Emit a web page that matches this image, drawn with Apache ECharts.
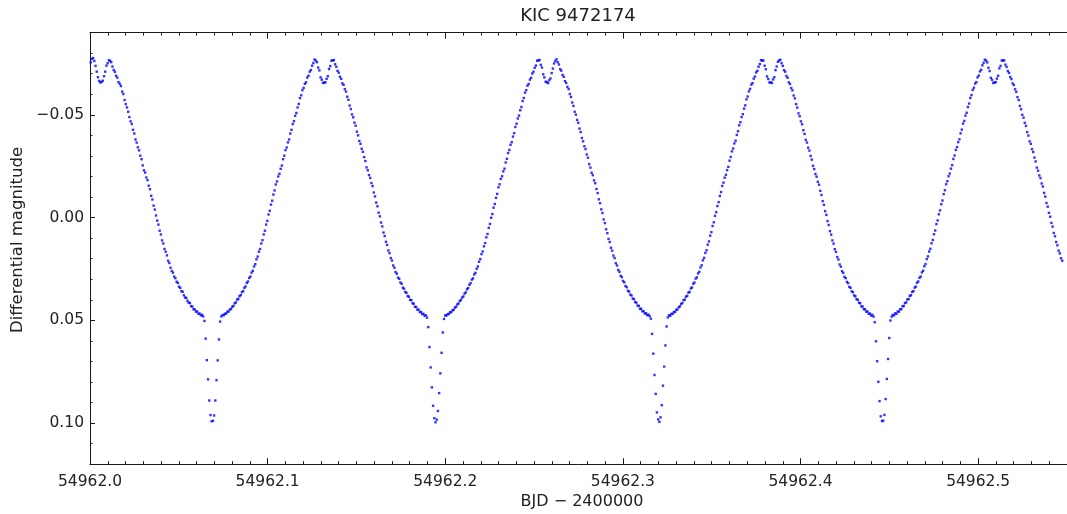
<!DOCTYPE html>
<html><head><meta charset="utf-8">
<script src="https://cdn.jsdelivr.net/npm/echarts@6/dist/echarts.min.js"></script>
<style>html,body{margin:0;padding:0;background:#fff}#c{width:1067px;height:514px}</style>
</head><body><div id="c"></div>
<script>
const chartTitle = 'KIC 9472174';
const xName = 'BJD \u2212 2400000';
const yName = 'Differential magnitude';
const xMajorTicks = [54962.0, 54962.1, 54962.2, 54962.3, 54962.4, 54962.5];
const xTickLabels = ['54962.0', '54962.1', '54962.2', '54962.3', '54962.4', '54962.5'];
const yMajorTicks = [-0.05, 0.00, 0.05, 0.10];
const yTickLabels = ['\u22120.05', '0.00', '0.05', '0.10'];
const firstTime = 54962.00039;
const cadence = 0.00068112;

const magCycle0 = [
-0.0755,-0.0772,-0.0776,-0.0762,-0.0738,-0.0710,-0.0683,-0.0665,-0.0657,
-0.0660,-0.0666,-0.0688,-0.0710,-0.0739,-0.0751,-0.0765,-0.0763,-0.0756,-0.0735,
-0.0718,-0.0709,-0.0690,-0.0681,-0.0659,-0.0651,-0.0640,-0.0613,-0.0601,-0.0572,
-0.0552,-0.0536,-0.0515,-0.0489,-0.0468,-0.0455,-0.0427,-0.0409,-0.0380,-0.0365,
-0.0342,-0.0327,-0.0301,-0.0284,-0.0254,-0.0230,-0.0219,-0.0195,-0.0182,-0.0155,
-0.0138,-0.0106,-0.0088,-0.0058,-0.0039,-0.0010,0.0015,0.0034,0.0064,0.0082,
0.0111,0.0126,0.0153,0.0166,0.0184,0.0210,0.0221,0.0244,0.0260,0.0268,
0.0287,0.0295,0.0312,0.0318,0.0336,0.0342,0.0358,0.0361,0.0378,0.0389,
0.0391,0.0405,0.0414,0.0416,0.0431,0.0433,0.0446,0.0447,0.0458,0.0457,
0.0468,0.0467,0.0476,0.0473,0.0481,0.0503,0.0589,0.0694,0.0787,0.0890,
0.0961,0.0991];

const magCycle1 = [
0.0989,0.0963,0.0890,0.0791,0.0695,0.0593,0.0506,0.0481,0.0474,0.0475,
0.0468,0.0467,0.0458,0.0457,0.0447,0.0445,0.0434,0.0430,0.0417,0.0413,
0.0399,0.0396,0.0383,0.0377,0.0363,0.0358,0.0342,0.0335,0.0318,0.0311,
0.0294,0.0287,0.0268,0.0259,0.0238,0.0227,0.0203,0.0190,0.0166,0.0153,
0.0126,0.0110,0.0082,0.0064,0.0034,0.0016,-0.0015,-0.0033,-0.0063,-0.0082,
-0.0112,-0.0132,-0.0161,-0.0176,-0.0200,-0.0213,-0.0237,-0.0253,-0.0284,-0.0301,
-0.0328,-0.0341,-0.0366,-0.0380,-0.0409,-0.0427,-0.0455,-0.0469,-0.0495,-0.0509,
-0.0536,-0.0553,-0.0581,-0.0595,-0.0620,-0.0631,-0.0651,-0.0658,-0.0681,-0.0690,
-0.0710,-0.0718,-0.0739,-0.0752,-0.0769,-0.0764,-0.0756,-0.0730,-0.0716,-0.0682,
-0.0671,-0.0655,-0.0657,-0.0658,-0.0675,-0.0688,-0.0723,-0.0737,-0.0763,-0.0765,
-0.0766,-0.0746,-0.0734,-0.0714,-0.0705,-0.0685,-0.0675,-0.0653,-0.0646,-0.0625,
-0.0613,-0.0588,-0.0573,-0.0545,-0.0528,-0.0502,-0.0488,-0.0462,-0.0447,-0.0418,
-0.0400,-0.0373,-0.0359,-0.0335,-0.0320,-0.0294,-0.0275,-0.0244,-0.0230,-0.0207,
-0.0193,-0.0168,-0.0153,-0.0122,-0.0103,-0.0073,-0.0055,-0.0024,-0.0006,0.0024,
0.0043,0.0073,0.0090,0.0118,0.0133,0.0160,0.0173,0.0197,0.0209,0.0233,
0.0244,0.0265,0.0273,0.0292,0.0298,0.0316,0.0322,0.0341,0.0346,0.0362,
0.0366,0.0382,0.0385,0.0400,0.0402,0.0417,0.0419,0.0434,0.0435,0.0448,
0.0448,0.0460,0.0459,0.0470,0.0468,0.0478,0.0475,0.0487,0.0533,0.0630,
0.0729,0.0826,0.0916,0.0976,0.0996];

const magCycle2 = [
0.0983,0.0941,0.0854,0.0758,0.0658,0.0559,0.0493,0.0476,0.0477,0.0470,
0.0469,0.0461,0.0460,0.0451,0.0449,0.0438,0.0434,0.0423,0.0418,0.0406,
0.0401,0.0389,0.0384,0.0370,0.0364,0.0349,0.0343,0.0327,0.0319,0.0302,
0.0296,0.0277,0.0269,0.0249,0.0238,0.0215,0.0202,0.0178,0.0165,0.0140,
0.0124,0.0096,0.0080,0.0050,0.0031,0.0001,-0.0017,-0.0048,-0.0066,-0.0096,
-0.0115,-0.0147,-0.0162,-0.0188,-0.0201,-0.0225,-0.0238,-0.0268,-0.0286,-0.0314,
-0.0329,-0.0354,-0.0367,-0.0394,-0.0411,-0.0441,-0.0457,-0.0482,-0.0496,-0.0522,
-0.0538,-0.0567,-0.0582,-0.0608,-0.0620,-0.0642,-0.0650,-0.0671,-0.0680,-0.0701,
-0.0710,-0.0729,-0.0740,-0.0763,-0.0764,-0.0767,-0.0743,-0.0730,-0.0697,-0.0682,
-0.0661,-0.0659,-0.0654,-0.0668,-0.0677,-0.0703,-0.0725,-0.0750,-0.0762,-0.0770,
-0.0756,-0.0745,-0.0722,-0.0715,-0.0694,-0.0685,-0.0664,-0.0655,-0.0636,-0.0625,
-0.0601,-0.0587,-0.0560,-0.0543,-0.0515,-0.0501,-0.0475,-0.0461,-0.0433,-0.0416,
-0.0387,-0.0371,-0.0347,-0.0333,-0.0307,-0.0291,-0.0260,-0.0243,-0.0218,-0.0206,
-0.0181,-0.0167,-0.0139,-0.0119,-0.0089,-0.0070,-0.0040,-0.0022,0.0009,0.0027,
0.0057,0.0076,0.0104,0.0119,0.0147,0.0161,0.0185,0.0197,0.0222,0.0233,
0.0255,0.0264,0.0283,0.0290,0.0308,0.0315,0.0333,0.0339,0.0356,0.0360,
0.0375,0.0379,0.0394,0.0397,0.0411,0.0414,0.0428,0.0430,0.0444,0.0444,
0.0456,0.0456,0.0467,0.0465,0.0475,0.0472,0.0480,0.0492,0.0566,0.0662,
0.0766,0.0858,0.0948,0.0982];

const magCycle3 = [
0.0994,0.0972,0.0913,0.0818,0.0725,0.0622,0.0530,0.0486,0.0475,0.0478,
0.0469,0.0468,0.0460,0.0459,0.0449,0.0447,0.0436,0.0432,0.0420,0.0416,
0.0402,0.0399,0.0385,0.0381,0.0365,0.0362,0.0345,0.0340,0.0322,0.0316,
0.0297,0.0291,0.0272,0.0264,0.0243,0.0232,0.0208,0.0196,0.0172,0.0159,
0.0132,0.0116,0.0088,0.0071,0.0041,0.0023,-0.0008,-0.0026,-0.0056,-0.0075,
-0.0105,-0.0124,-0.0154,-0.0170,-0.0194,-0.0208,-0.0231,-0.0247,-0.0277,-0.0295,
-0.0322,-0.0336,-0.0361,-0.0374,-0.0402,-0.0420,-0.0449,-0.0464,-0.0489,-0.0503,
-0.0530,-0.0546,-0.0575,-0.0589,-0.0614,-0.0626,-0.0647,-0.0654,-0.0676,-0.0686,
-0.0706,-0.0714,-0.0734,-0.0747,-0.0766,-0.0764,-0.0764,-0.0739,-0.0722,-0.0687,
-0.0674,-0.0657,-0.0658,-0.0655,-0.0672,-0.0683,-0.0717,-0.0735,-0.0758,-0.0764,
-0.0768,-0.0751,-0.0738,-0.0717,-0.0710,-0.0689,-0.0680,-0.0658,-0.0650,-0.0630,
-0.0619,-0.0594,-0.0580,-0.0552,-0.0535,-0.0507,-0.0493,-0.0468,-0.0454,-0.0425,
-0.0407,-0.0378,-0.0365,-0.0340,-0.0326,-0.0300,-0.0282,-0.0252,-0.0236,-0.0212,
-0.0199,-0.0174,-0.0160,-0.0130,-0.0110,-0.0080,-0.0062,-0.0031,-0.0013,0.0017,
0.0036,0.0066,0.0083,0.0111,0.0127,0.0154,0.0167,0.0192,0.0204,0.0228,
0.0239,0.0261,0.0269,0.0288,0.0295,0.0313,0.0319,0.0337,0.0342,0.0359,
0.0363,0.0379,0.0383,0.0397,0.0400,0.0414,0.0417,0.0432,0.0433,0.0446,
0.0446,0.0458,0.0457,0.0468,0.0467,0.0477,0.0473,0.0482,0.0509,0.0602,
0.0699,0.0799,0.0893,0.0967,0.0990];

const magCycle4 = [
0.0988,0.0960,0.0883,0.0785,0.0688,0.0586,0.0501,0.0482,0.0473,0.0476,
0.0466,0.0468,0.0457,0.0458,0.0446,0.0446,0.0432,0.0430,0.0416,0.0413,
0.0399,0.0396,0.0381,0.0378,0.0362,0.0358,0.0341,0.0336,0.0317,0.0311,
0.0293,0.0287,0.0267,0.0259,0.0237,0.0226,0.0202,0.0189,0.0165,0.0152,
0.0125,0.0109,0.0081,0.0063,0.0032,0.0014,-0.0016,-0.0035,-0.0065,-0.0083,
-0.0114,-0.0133,-0.0162,-0.0177,-0.0201,-0.0214,-0.0238,-0.0255,-0.0285,-0.0302,
-0.0329,-0.0343,-0.0367,-0.0381,-0.0410,-0.0428,-0.0457,-0.0470,-0.0496,-0.0510,
-0.0538,-0.0555,-0.0582,-0.0596,-0.0621,-0.0632,-0.0652,-0.0659,-0.0682,-0.0691,
-0.0711,-0.0719,-0.0741,-0.0753,-0.0768,-0.0764,-0.0755,-0.0729,-0.0713,-0.0680,
-0.0670,-0.0655,-0.0657,-0.0659,-0.0676,-0.0690,-0.0726,-0.0738,-0.0764,-0.0764,
-0.0765,-0.0744,-0.0733,-0.0713,-0.0704,-0.0684,-0.0674,-0.0653,-0.0645,-0.0624,
-0.0612,-0.0586,-0.0572,-0.0543,-0.0527,-0.0500,-0.0486,-0.0461,-0.0446,-0.0416,
-0.0399,-0.0371,-0.0359,-0.0333,-0.0319,-0.0292,-0.0273,-0.0243,-0.0228,-0.0205,
-0.0192,-0.0166,-0.0151,-0.0120,-0.0102,-0.0071,-0.0053,-0.0023,-0.0004,0.0026,
0.0044,0.0075,0.0091,0.0119,0.0135,0.0161,0.0174,0.0198,0.0210];

const magnitudes = [].concat(magCycle0, magCycle1, magCycle2, magCycle3, magCycle4);
const points = magnitudes.map((m, i) => [firstTime + i * cadence, m]);

const FONT = 'DejaVu Sans';
const TXT = '#222';
const AX = '#1a1a1a';
function lookup(vals, labels) {
  return function (v) {
    const k = vals.findIndex(t => Math.abs(t - v) < 1e-7);
    return k >= 0 ? labels[k] : '';
  };
}
const X_MIN = 54962.0, X_MAX = 54962.55;
const Y_MIN = -0.09, Y_MAX = 0.12;

const chart = echarts.init(document.getElementById('c'), null, {renderer: 'canvas'});
chart.setOption({
  animation: false,
  backgroundColor: '#fff',
  grid: {left: 90, right: -5.6, top: 32.6, bottom: 49.8, containLabel: false},
  xAxis: [
    {type: 'value', position: 'bottom', min: X_MIN, max: X_MAX, interval: 0.01,
     axisLine: {show: true, onZero: false, lineStyle: {color: AX, width: 1}},
     axisTick: {show: true, inside: true, length: 3, lineStyle: {color: AX, width: 1}},
     axisLabel: {show: false}, splitLine: {show: false}},
    {type: 'value', position: 'bottom', min: X_MIN, max: X_MAX,
     axisLine: {show: false, onZero: false},
     axisTick: {show: true, inside: true, length: 6, customValues: xMajorTicks, lineStyle: {color: AX, width: 1}},
     axisLabel: {show: true, customValues: xMajorTicks, formatter: lookup(xMajorTicks, xTickLabels),
                 margin: 10, color: TXT, fontFamily: FONT, fontSize: 15.5},
     splitLine: {show: false}},
    {type: 'value', position: 'top', min: X_MIN, max: X_MAX, interval: 0.01,
     axisLine: {show: true, onZero: false, lineStyle: {color: AX, width: 1}},
     axisTick: {show: true, inside: true, length: 3, lineStyle: {color: AX, width: 1}},
     axisLabel: {show: false}, splitLine: {show: false}},
    {type: 'value', position: 'top', min: X_MIN, max: X_MAX,
     axisLine: {show: false, onZero: false},
     axisTick: {show: true, inside: true, length: 6, customValues: xMajorTicks, lineStyle: {color: AX, width: 1}},
     axisLabel: {show: false}, splitLine: {show: false}}
  ],
  yAxis: [
    {type: 'value', position: 'left', min: Y_MIN, max: Y_MAX, inverse: true, interval: 0.01,
     axisLine: {show: true, onZero: false, lineStyle: {color: AX, width: 1}},
     axisTick: {show: true, inside: true, length: 2.5, lineStyle: {color: AX, width: 1}},
     axisLabel: {show: false}, splitLine: {show: false}},
    {type: 'value', position: 'left', min: Y_MIN, max: Y_MAX, inverse: true,
     axisLine: {show: false, onZero: false},
     axisTick: {show: true, inside: true, length: 5, customValues: yMajorTicks, lineStyle: {color: AX, width: 1}},
     axisLabel: {show: true, customValues: yMajorTicks, formatter: lookup(yMajorTicks, yTickLabels),
                 margin: 6, color: TXT, fontFamily: FONT, fontSize: 15.5},
     splitLine: {show: false}}
  ],
  series: [{
    type: 'scatter', xAxisIndex: 0, yAxisIndex: 0,
    data: points, symbol: 'rect', symbolSize: 2.4,
    itemStyle: {color: '#0000ff'}, silent: true
  }],
  graphic: [
    {type: 'text', x: 578, y: 16, style: {text: chartTitle, fill: TXT, font: '18px "DejaVu Sans"', align: 'center', verticalAlign: 'middle'}},
    {type: 'text', x: 582, y: 502, style: {text: xName, fill: TXT, font: '16px "DejaVu Sans"', align: 'center', verticalAlign: 'middle'}},
    {type: 'text', x: 18, y: 240, rotation: Math.PI / 2, style: {text: yName, fill: TXT, font: '16.5px "DejaVu Sans"', align: 'center', verticalAlign: 'middle'}}
  ]
});
</script></body></html>
